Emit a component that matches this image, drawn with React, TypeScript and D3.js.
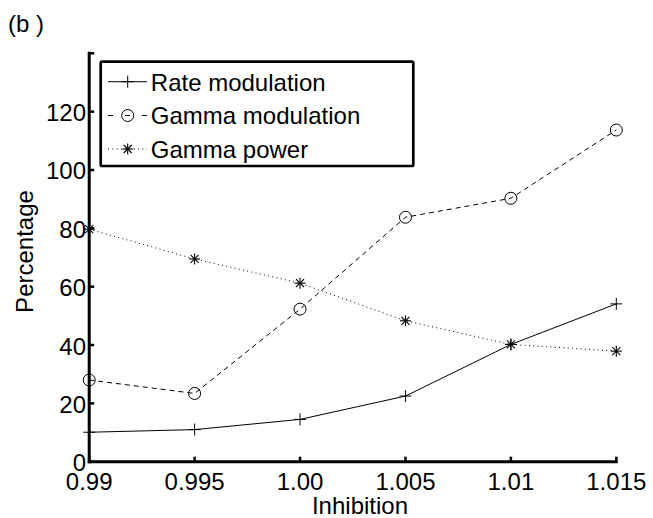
import React from "react";
import * as d3 from "d3";

const xValues = [0.99, 0.995, 1.0, 1.005, 1.01, 1.015];
const rateModulation = [10.1, 11.0, 14.5, 22.5, 40.2, 54.1];
const gammaModulation = [28.0, 23.4, 52.3, 83.8, 90.3, 113.7];
const gammaPower = [79.7, 69.5, 61.2, 48.3, 40.2, 37.9];
const xTickLabels = ["0.99", "0.995", "1.00", "1.005", "1.01", "1.015"];
const yTicks = [0, 20, 40, 60, 80, 100, 120, 140];
const yTickLabels = ["0", "20", "40", "60", "80", "100", "120", ""];
const seriesNames = ["Rate modulation", "Gamma modulation", "Gamma power"];

const W = 653;
const H = 518;
const FONT = "'Liberation Sans', Arial, Helvetica, sans-serif";
const FS = 24;

const x = d3.scaleLinear().domain([0.99, 1.015]).range([89.2, 616.3]);
const y = d3.scaleLinear().domain([0, 140]).range([461.7, 53.3]);

type MarkerKind = "plus" | "circle" | "star";

function Marker({ kind, cx, cy }: { kind: MarkerKind; cx: number; cy: number }) {
  if (kind === "plus") {
    return (
      <g stroke="#000" strokeWidth={1}>
        <line x1={cx - 6} x2={cx + 6} y1={cy} y2={cy} />
        <line x1={cx} x2={cx} y1={cy - 6} y2={cy + 6} />
      </g>
    );
  }
  if (kind === "circle") {
    return <circle cx={cx} cy={cy} r={6} fill="none" stroke="#000" strokeWidth={1} />;
  }
  const d = 4;
  return (
    <g stroke="#000" strokeWidth={1.1}>
      <line x1={cx - 5.5} x2={cx + 5.5} y1={cy} y2={cy} />
      <line x1={cx} x2={cx} y1={cy - 5.5} y2={cy + 5.5} />
      <line x1={cx - d} x2={cx + d} y1={cy - d} y2={cy + d} />
      <line x1={cx - d} x2={cx + d} y1={cy + d} y2={cy - d} />
    </g>
  );
}

const series: { values: number[]; dash: string; kind: MarkerKind; legendDash: string }[] = [
  { values: rateModulation, dash: "none", kind: "plus", legendDash: "none" },
  { values: gammaModulation, dash: "5,4", kind: "circle", legendDash: "5,12" },
  { values: gammaPower, dash: "1,3.3", kind: "star", legendDash: "1,3.3" },
];

export default function App() {
  const line = d3
    .line<number>()
    .x((_, i) => x(xValues[i]))
    .y((v) => y(v));

  const x0 = x.range()[0];
  const x1 = x.range()[1];
  const y0 = y.range()[0];
  const y1 = y.range()[1];

  const legendRows = [81.7, 115.5, 149];

  return (
    <svg
      width={W}
      height={H}
      style={{ position: "absolute", left: 0, top: 0, background: "#fff" }}
      fontFamily={FONT}
    >
      <rect x={0} y={0} width={W} height={H} fill="#fff" />
      <text x={8} y={32} fontSize={FS} fill="#000" style={{ whiteSpace: "pre" }}>
        (b )
      </text>

      {/* series lines */}
      {series.map((s, si) => (
        <path
          key={"l" + si}
          d={line(s.values) || ""}
          fill="none"
          stroke="#000"
          strokeWidth={1}
          strokeDasharray={s.dash}
        />
      ))}
      {series.map((s, si) =>
        s.values.map((v, i) => (
          <Marker key={"m" + si + "-" + i} kind={s.kind} cx={x(xValues[i])} cy={y(v)} />
        ))
      )}

      {/* axes */}
      <g stroke="#000" strokeWidth={3} strokeLinecap="square">
        <line x1={x0} x2={x1} y1={y0} y2={y0} />
        <line x1={x0} x2={x0} y1={y0} y2={y1} />
      </g>
      {xValues.map((v, i) => (
        <g key={"xt" + i}>
          <line x1={x(v)} x2={x(v)} y1={y0} y2={y0 - 5} stroke="#000" strokeWidth={2.5} />
          <text x={x(v)} y={490} fontSize={FS} textAnchor="middle" fill="#000">
            {xTickLabels[i]}
          </text>
        </g>
      ))}
      {yTicks.map((v, i) => (
        <g key={"yt" + i}>
          <line x1={x0} x2={x0 + 5} y1={y(v)} y2={y(v)} stroke="#000" strokeWidth={2.5} />
          <text x={86} y={y(v) + 9.5} fontSize={FS} textAnchor="end" fill="#000">
            {yTickLabels[i]}
          </text>
        </g>
      ))}

      <text x={360} y={514} fontSize={FS} textAnchor="middle" fill="#000">
        Inhibition
      </text>
      <text
        transform={`translate(32.5,251.5) rotate(-90)`}
        fontSize={FS}
        textAnchor="middle"
        fill="#000"
      >
        Percentage
      </text>

      {/* legend */}
      <rect
        x={100.7}
        y={61.7}
        width={312.6}
        height={104.3}
        fill="#fff"
        stroke="#000"
        strokeWidth={2.7}
        rx={1.5}
      />
      {series.map((s, si) => (
        <g key={"lg" + si}>
          <line
            x1={108}
            x2={147}
            y1={legendRows[si]}
            y2={legendRows[si]}
            stroke="#000"
            strokeWidth={1}
            strokeDasharray={s.legendDash}
          />
          <Marker kind={s.kind} cx={127.7} cy={legendRows[si]} />
          <text x={150.8} y={legendRows[si] + 8.8} fontSize={FS} fill="#000">
            {seriesNames[si]}
          </text>
        </g>
      ))}
    </svg>
  );
}
